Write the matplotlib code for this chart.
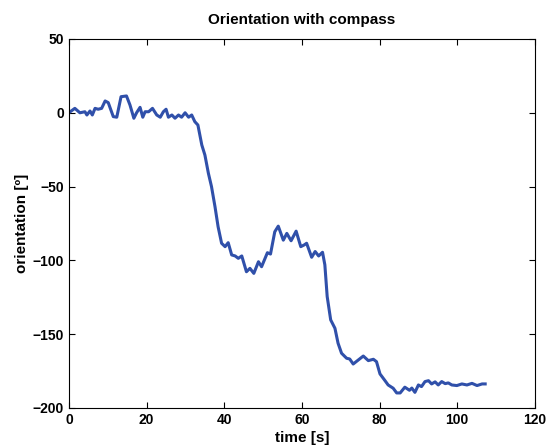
import numpy as np
import matplotlib.pyplot as plt

plt.rcParams['font.family'] = ['Liberation Sans', 'DejaVu Sans']

# time [s] and orientation [deg]
time = [0.3, 1.5, 2.8, 4.1, 4.6, 5.4, 6.0, 6.7, 7.5, 8.4, 9.3, 10.1, 11.4, 12.3,
        13.4, 14.8, 15.7, 16.7, 17.4, 18.3, 19.0, 19.6, 20.5, 21.5, 22.6, 23.5,
        24.3, 25.0, 25.6, 26.5, 27.3, 28.2, 29.0, 29.9, 30.8, 31.6, 32.4, 33.2,
        34.2, 35.0, 35.9, 36.7, 37.6, 38.4, 39.3, 40.2, 41.0, 41.9, 42.8, 43.6,
        44.5, 45.7, 46.6, 47.6, 48.8, 49.6, 51.1, 51.9, 53.0, 53.9, 55.2, 56.1,
        57.2, 58.5, 59.7, 60.6, 61.2, 62.5, 63.4, 64.3, 65.3, 65.9, 66.5, 67.4,
        68.5, 69.3, 70.2, 71.5, 72.3, 73.2, 74.5, 75.8, 77.1, 78.4, 79.2, 80.1,
        81.4, 82.2, 83.5, 84.4, 85.3, 86.5, 87.7, 88.3, 89.1, 90.0, 90.8, 91.7,
        92.6, 93.4, 94.3, 95.1, 96.0, 96.9, 97.7, 98.6, 99.9, 101.2, 102.5,
        103.8, 105.1, 106.4, 107.2]
orientation = [0.7, 3, 0, 0.7, -1.5, 1.2, -1.5, 3, 2.4, 3, 8, 6.9, -2.6, -3,
               10.9, 11.4, 5.3, -3.7, 0, 3.7, -3, 0.7, 0.7, 3, -1.5, -3,
               0.7, 2.4, -3, -1.5, -3.7, -1.5, -3, 0, -3, -1.5, -6, -8.3,
               -21.8, -28.6, -41, -50, -63.6, -77.2, -88.4, -90.7, -88, -96.3, -97, -98.6,
               -97, -107.7, -105.4, -108.8, -100.9, -104.3, -94.8, -95.7, -80.6, -76.8, -86.3, -81.7,
               -86.7, -80.2, -90.7, -89.5, -88.4, -97.9, -94, -97, -94.5, -103, -124.5, -140.3,
               -146, -156.1, -162.9, -166.3, -166.8, -170.2, -167.5, -164.8, -167.9, -167, -168.6, -176.9,
               -181.5, -184.4, -186.6, -189.8, -189.8, -185.9, -188, -186.5, -189.4, -184.4, -185.5, -182.1,
               -181.5, -183.7, -182.3, -184.4, -182.1, -183.5, -183, -184.4, -184.8, -183.7, -184.4,
               -183.3, -184.8, -183.7, -183.7]

fig = plt.figure(figsize=(5.5, 4.48), dpi=100)
ax = fig.add_axes([0.1255, 0.0893, 0.847, 0.8237])

ax.plot(time, orientation, color='#3050aa', linewidth=2.2)

ax.set_xlim(0, 120)
ax.set_ylim(-200, 50)
ax.set_xticks(np.arange(0, 121, 20))
ax.set_yticks(np.arange(-200, 51, 50))
ax.tick_params(direction='in', top=True, right=True, labelsize=10, length=4)
for lbl in ax.get_xticklabels() + ax.get_yticklabels():
    lbl.set_fontweight('bold')

ax.set_title('Orientation with compass', fontsize=11, fontweight='bold', pad=11)
ax.set_xlabel('time [s]', fontsize=11, fontweight='bold', labelpad=3)
ax.set_ylabel('orientation [º]', fontsize=11, fontweight='bold', labelpad=3)

fig.savefig('out.png', dpi=100)
